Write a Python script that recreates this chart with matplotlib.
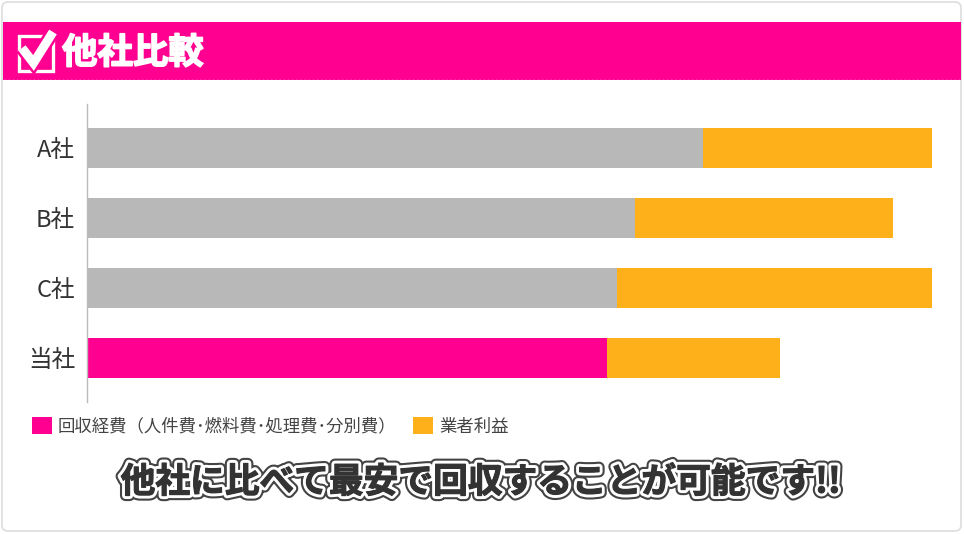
import matplotlib
matplotlib.use("Agg")
import matplotlib.pyplot as plt
import matplotlib.patheffects as pe
from matplotlib.patches import Rectangle, FancyBboxPatch, Patch

plt.rcParams['font.family'] = ['Noto Sans CJK JP', 'DejaVu Sans']

# ---- data ----
companies = ['A社', 'B社', 'C社', '当社']
cost = [72.9, 64.8, 62.7, 61.5]
profit = [27.1, 30.6, 37.3, 20.5]
cost_colors = ['#B8B8B8', '#B8B8B8', '#B8B8B8', '#FF0090']
profit_color = '#FDB019'
legend_labels = ['回収経費（人件費･燃料費･処理費･分別費）', '業者利益']
title = '他社比較'
slogan = '他社に比べて最安で回収することが可能です!!'

PINK = '#FF0090'
W, H = 964, 534
fig = plt.figure(figsize=(W / 100, H / 100), dpi=100)

# background overlay in pixel coordinates
bg = fig.add_axes([0, 0, 1, 1])
bg.set_xlim(0, W)
bg.set_ylim(H, 0)
bg.axis('off')
bg.add_patch(FancyBboxPatch((2, 2), W - 5, H - 5, boxstyle='round,pad=0,rounding_size=6',
                            fc='white', ec='#DDDDDD', lw=1.2))
bg.add_patch(Rectangle((2.5, 22), W - 5.5, 58, fc=PINK, ec='none'))
bg.plot([4, W - 4], [79.5, 79.5], color='white', lw=1, ls=(0, (1, 2)))
# check box icon
bg.add_patch(Rectangle((18.5, 36), 34, 35, fc='none', ec='white', lw=2.4))
bg.plot([22, 33.5, 53], [48, 63, 32], color='white', lw=6.5, solid_capstyle='butt',
        solid_joinstyle='miter',
        path_effects=[pe.Stroke(linewidth=10, foreground=PINK), pe.Normal()])
bg.text(62, 53, title, color='white', fontsize=25.5, fontweight='bold', va='center', ha='left',
        path_effects=[pe.Stroke(linewidth=1.2, foreground='white'), pe.Normal()])

# slogan
bg.text(481, 482, slogan, color='#333333', fontsize=25, fontweight='bold', ha='center', va='center',
        path_effects=[pe.Stroke(linewidth=8, foreground='#444444'),
                      pe.Stroke(linewidth=5, foreground='white'),
                      pe.Stroke(linewidth=0.8, foreground='#333333'), pe.Normal()])

# chart axes
left, right, top, bottom = 87, 932, 104, 402
ax = fig.add_axes([left / W, 1 - bottom / H, (right - left) / W, (bottom - top) / H])
ax.patch.set_alpha(0)
y = list(range(len(companies)))
ax.barh(y, cost, height=0.571, color=cost_colors, linewidth=0)
ax.barh(y, profit, left=cost, height=0.571, color=profit_color, linewidth=0)
ax.set_xlim(0, 100)
ax.set_ylim(3.629, -0.629)
ax.set_yticks(y)
ax.set_yticklabels(companies, fontsize=17, color='#333333')
ax.tick_params(axis='y', length=0, pad=8.5)
ax.set_xticks([])
for s in ['top', 'right', 'bottom']:
    ax.spines[s].set_visible(False)
ax.spines['left'].set_color('#BBBBBB')
ax.spines['left'].set_linewidth(1)

handles = [Patch(fc=PINK, ec='none'), Patch(fc=profit_color, ec='none')]
leg = fig.legend(handles, legend_labels, loc='center left',
                 bbox_to_anchor=(32 / W, 1 - 426.5 / H), ncol=2, frameon=False,
                 fontsize=12.5, handlelength=1.15, handleheight=1.15,
                 handletextpad=0.35, columnspacing=0.95, borderaxespad=0, borderpad=0)
for t in leg.get_texts():
    t.set_color('#444444')

fig.savefig('out.png', dpi=100)
